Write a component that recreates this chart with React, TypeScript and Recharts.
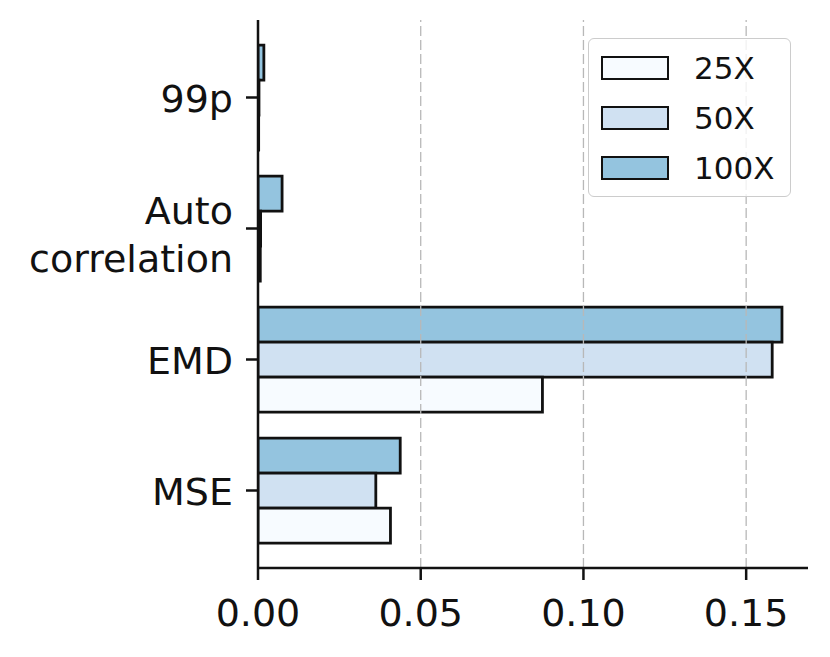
import { Bar, BarChart, ReferenceLine, XAxis, YAxis } from "recharts";

const categories = ["99p", "Auto\ncorrelation", "EMD", "MSE"];
const series25x = [0.0002, 0.0007, 0.0874, 0.0407];
const series50x = [0.0003, 0.0008, 0.158, 0.0362];
const series100x = [0.0018, 0.0074, 0.161, 0.0437];
const xTicks = [0, 0.05, 0.1, 0.15];
const gridValues = [0.05, 0.1, 0.15];

const seriesInfo = [
	{ key: "x25", label: "25X", color: "#f7fbff" },
	{ key: "x50", label: "50X", color: "#d0e1f2" },
	{ key: "x100", label: "100X", color: "#94c4df" },
];

const data = categories.map((name, i) => ({
	name,
	x25: series25x[i],
	x50: series50x[i],
	x100: series100x[i],
}));

const FONT = "'DejaVu Sans', sans-serif";

function CategoryTick({ x, y, payload }: any) {
	const lines = String(payload.value).split("\n");
	if (lines.length === 1) {
		return (
			<text x={x} y={y + 14} textAnchor="end" fontSize={38} fontFamily={FONT} fill="#111">
				{lines[0]}
			</text>
		);
	}
	return (
		<text x={x} textAnchor="end" fontSize={38} fontFamily={FONT} fill="#111">
			{lines.map((l, i) => (
				<tspan key={l} x={x} y={y - 5 + i * 48}>
					{l}
				</tspan>
			))}
		</text>
	);
}

function ValueTick({ x, y, payload }: any) {
	return (
		<text x={x} y={y + 46} textAnchor="middle" fontSize={38} fontFamily={FONT} fill="#111">
			{Number(payload.value).toFixed(2)}
		</text>
	);
}

// matplotlib-style legend box, laid over the plot
function LegendBox() {
	return (
		<div
			style={{
				position: "absolute",
				left: 588,
				top: 38,
				width: 203,
				height: 159,
				boxSizing: "border-box",
				border: "1.5px solid #cccccc",
				borderRadius: 6,
				background: "rgba(255,255,255,0.8)",
				fontFamily: FONT,
				fontSize: 31,
				color: "#111",
			}}
		>
			{seriesInfo.map((s, i) => (
				<div
					key={s.key}
					style={{ position: "absolute", left: 12, top: 17 + i * 50, display: "flex", alignItems: "center", height: 24 }}
				>
					<div
						style={{
							width: 68,
							height: 24,
							boxSizing: "border-box",
							background: s.color,
							border: "2.5px solid #111",
						}}
					/>
					<span style={{ marginLeft: 25, lineHeight: "24px" }}>{s.label}</span>
				</div>
			))}
		</div>
	);
}

export default function App() {
	return (
		<div style={{ position: "fixed", left: 0, top: 0, width: 830, height: 657, background: "#fff" }}>
			<BarChart
				width={830}
				height={657}
				data={data}
				layout="vertical"
				margin={{ top: 20, right: 22, bottom: 0, left: 0 }}
				barCategoryGap="10%"
				barGap={0}
			>
				{gridValues.map((v) => (
					<ReferenceLine key={v} x={v} stroke="#b8b8b8" strokeDasharray="10 4" strokeWidth={1.3} />
				))}
				<XAxis
					type="number"
					domain={[0, 0.169]}
					ticks={xTicks}
					allowDataOverflow
					height={89}
					tickSize={12}
					tickMargin={0}
					tick={<ValueTick />}
					axisLine={{ stroke: "#111", strokeWidth: 2.5 }}
					tickLine={{ stroke: "#111", strokeWidth: 2.5 }}
				/>
				<YAxis
					type="category"
					dataKey="name"
					width={258}
					padding={{ top: 12, bottom: 12 }}
					tickSize={12}
					tickMargin={13}
					tick={<CategoryTick />}
					interval={0}
					axisLine={{ stroke: "#111", strokeWidth: 2.5 }}
					tickLine={{ stroke: "#111", strokeWidth: 2.5 }}
				/>
				<Bar dataKey="x100" fill="#94c4df" stroke="#111" strokeWidth={2.8} isAnimationActive={false} />
				<Bar dataKey="x50" fill="#d0e1f2" stroke="#111" strokeWidth={2.8} isAnimationActive={false} />
				<Bar dataKey="x25" fill="#f7fbff" stroke="#111" strokeWidth={2.8} isAnimationActive={false} />
			</BarChart>
			<LegendBox />
		</div>
	);
}
